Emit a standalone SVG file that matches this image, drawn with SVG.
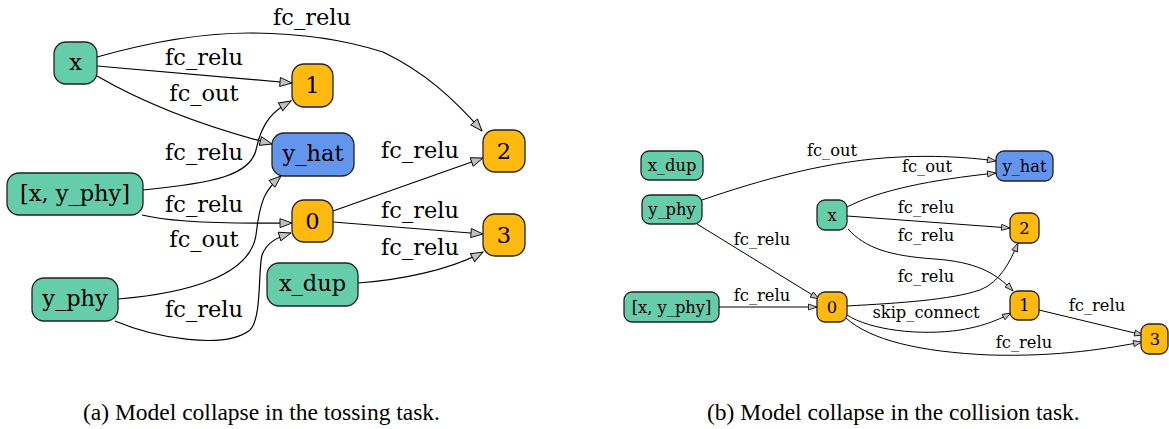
<svg xmlns="http://www.w3.org/2000/svg" width="1169" height="429" viewBox="0 0 1169 429">
<style>
.g{fill:#66cdaa}.o{fill:#ffb90f}.b{fill:#6495ed}
.n rect{stroke:#222;stroke-width:1.3}
.ta{font-family:"DejaVu Serif",serif;font-size:22.5px;text-anchor:middle;fill:#000}
.tb{font-family:"DejaVu Serif",serif;font-size:16.3px;text-anchor:middle;fill:#000}
.ea{fill:none;stroke:#000;stroke-width:1.2;marker-end:url(#ma)}
.eb{fill:none;stroke:#000;stroke-width:1;marker-end:url(#mb)}
.cap{font-family:"Liberation Serif",serif;font-size:23.5px;fill:#000}
</style>
<defs>
<marker id="ma" markerUnits="userSpaceOnUse" markerWidth="14" markerHeight="11" refX="12" refY="4.5" orient="auto" overflow="visible"><path d="M0,0 L12,4.5 L0,9 Z" fill="#c0c0c0" stroke="#000" stroke-width="0.9"/></marker>
<marker id="mb" markerUnits="userSpaceOnUse" markerWidth="10" markerHeight="8" refX="8.5" refY="3" orient="auto" overflow="visible"><path d="M0,0 L8.5,3 L0,6 Z" fill="#c0c0c0" stroke="#000" stroke-width="0.8"/></marker>
</defs>

<g id="connectors-a">
<path class="ea" d="M97,57 C150,42 200,33 250,33 C300,33 345,40 383,52 C425,72 455,100 482,131"/>
<path class="ea" d="M97,66 L292,83"/>
<path class="ea" d="M97,76 C135,98 190,123 272,144"/>
<path class="ea" d="M143,190 C215,183 250,175 256,150 C262,120 275,110 291,101"/>
<path class="ea" d="M142,215 C170,222 220,224 292,223"/>
<path class="ea" d="M118,299 C190,293 250,275 256,235 C260,200 265,190 281,176"/>
<path class="ea" d="M115,321 C155,338 225,350 250,330 C262,318 258,270 262,255 C267,242 278,237 291,233"/>
<path class="ea" d="M333,211 L483,158"/>
<path class="ea" d="M333,222 L483,234"/>
<path class="ea" d="M358,283 C400,280 450,270 483,252"/>
</g>
<g id="labels-a" class="ta">
<text x="312" y="25">fc_relu</text>
<text x="204" y="65">fc_relu</text>
<text x="204" y="101">fc_out</text>
<text x="204" y="160">fc_relu</text>
<text x="204" y="212">fc_relu</text>
<text x="204" y="247">fc_out</text>
<text x="204" y="317">fc_relu</text>
<text x="420" y="158">fc_relu</text>
<text x="420" y="218">fc_relu</text>
<text x="420" y="255">fc_relu</text>
</g>

<g id="a-x" class="n"><rect class="g" x="54" y="42" width="43" height="42" rx="12"/><text class="ta" x="75.5" y="70">x</text></g>
<g id="a-1" class="n"><rect class="o" x="292" y="64" width="41" height="43" rx="12"/><text class="ta" x="312.5" y="93">1</text></g>
<g id="a-yhat" class="n"><rect class="b" x="272" y="133" width="82" height="43" rx="12"/><text class="ta" x="313" y="161">y_hat</text></g>
<g id="a-2" class="n"><rect class="o" x="483" y="130" width="42" height="42" rx="12"/><text class="ta" x="504" y="159">2</text></g>
<g id="a-xyphy" class="n"><rect class="g" x="7" y="173" width="136" height="42" rx="12"/><text class="ta" x="75" y="201">[x, y_phy]</text></g>
<g id="a-yphy" class="n"><rect class="g" x="32" y="278" width="86" height="43" rx="12"/><text class="ta" x="75" y="306">y_phy</text></g>
<g id="a-0" class="n"><rect class="o" x="292" y="200" width="41" height="42" rx="12"/><text class="ta" x="312.5" y="229">0</text></g>
<g id="a-3" class="n"><rect class="o" x="483" y="214" width="42" height="42" rx="12"/><text class="ta" x="504" y="243">3</text></g>
<g id="a-xdup" class="n"><rect class="g" x="267" y="263" width="91" height="43" rx="12"/><text class="ta" x="312.5" y="291">x_dup</text></g>

<g id="connectors-b">
<path class="eb" d="M702,200 C760,180 830,160 900,157 C940,155 975,158 996,161"/>
<path class="eb" d="M847,207 C880,190 930,180 996,173"/>
<path class="eb" d="M847,216 L1010,228"/>
<path class="eb" d="M848,229 C865,248 890,256 935,259 C975,262 995,272 1013,291"/>
<path class="eb" d="M697,224 L819,299"/>
<path class="eb" d="M719,307 L817,307"/>
<path class="eb" d="M847,306 C900,303 950,300 980,290 C1000,282 1010,262 1018,243"/>
<path class="eb" d="M847,315 C870,330 920,336 960,330 C985,326 1000,319 1011,313"/>
<path class="eb" d="M846,318 C870,340 920,352 990,355 C1060,357 1110,348 1142,342"/>
<path class="eb" d="M1039,310 L1143,335"/>
</g>
<g id="labels-b" class="tb">
<text x="832" y="156">fc_out</text>
<text x="927" y="172">fc_out</text>
<text x="926" y="213">fc_relu</text>
<text x="926" y="241">fc_relu</text>
<text x="762" y="245">fc_relu</text>
<text x="762" y="301">fc_relu</text>
<text x="926" y="282">fc_relu</text>
<text x="926" y="318">skip_connect</text>
<text x="1024" y="348">fc_relu</text>
<text x="1097" y="311">fc_relu</text>
</g>

<g id="b-xdup" class="n"><rect class="g" x="641" y="151" width="62" height="29" rx="8"/><text class="tb" x="672" y="171">x_dup</text></g>
<g id="b-yphy" class="n"><rect class="g" x="642" y="195" width="60" height="29" rx="8"/><text class="tb" x="672" y="215">y_phy</text></g>
<g id="b-xyphy" class="n"><rect class="g" x="624" y="292" width="95" height="30" rx="8"/><text class="tb" x="671.5" y="312.5">[x, y_phy]</text></g>
<g id="b-x" class="n"><rect class="g" x="817" y="200" width="30" height="30" rx="8"/><text class="tb" x="832" y="220.5">x</text></g>
<g id="b-0" class="n"><rect class="o" x="817" y="292" width="30" height="30" rx="8"/><text class="tb" x="832" y="312.5">0</text></g>
<g id="b-yhat" class="n"><rect class="b" x="996" y="151" width="57" height="30" rx="8"/><text class="tb" x="1024.5" y="171.5">y_hat</text></g>
<g id="b-2" class="n"><rect class="o" x="1010" y="213" width="29" height="30" rx="8"/><text class="tb" x="1024.5" y="233.5">2</text></g>
<g id="b-1" class="n"><rect class="o" x="1010" y="291" width="29" height="29" rx="8"/><text class="tb" x="1024.5" y="311">1</text></g>
<g id="b-3" class="n"><rect class="o" x="1141" y="324" width="27" height="30" rx="8"/><text class="tb" x="1155" y="344.5">3</text></g>

<text class="cap" x="83" y="420">(a) Model collapse in the tossing task.</text>
<text class="cap" x="707" y="420">(b) Model collapse in the collision task.</text>
</svg>
